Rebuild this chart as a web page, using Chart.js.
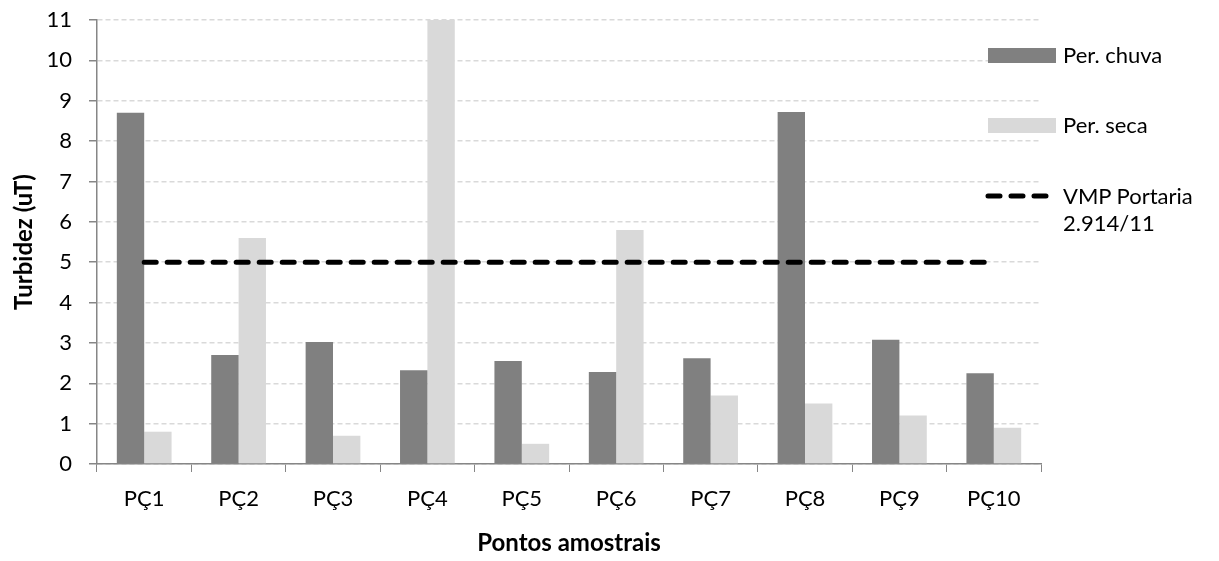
<!DOCTYPE html>
<html lang="pt">
<head>
    <meta charset="UTF-8">
    <title>Turbidez - Pontos amostrais</title>
    <script src="https://cdn.jsdelivr.net/npm/chart.js"></script>
    <style>
        body { margin: 0; background: #fff; font-family: Lato, sans-serif; }
        .wrap { position: relative; width: 1219px; height: 561px; }
        .legend { position: absolute; left: 985px; top: 0; color: #000; font-size: 22px; }
        .legend .item { position: absolute; left: 0; white-space: nowrap; }
        .legend .box { position: absolute; left: 3px; width: 68px; height: 15px; }
        .legend .txt { position: absolute; left: 78px; line-height: 27px; }
    </style>
</head>
<body>
<div class="wrap">
    <canvas id="turbChart" width="1219" height="561"></canvas>
    <div class="legend">
        <div class="item" style="top:55px">
            <div class="box" style="top:-7px; background:#808080"></div>
            <div class="txt" style="top:-14px">Per. chuva</div>
        </div>
        <div class="item" style="top:125px">
            <div class="box" style="top:-7px; background:#d9d9d9"></div>
            <div class="txt" style="top:-14px">Per. seca</div>
        </div>
        <div class="item" style="top:196px">
            <svg style="position:absolute; left:0; top:-5px" width="66" height="10">
                <line x1="3" y1="5" x2="63" y2="5" stroke="#000" stroke-width="5" stroke-linecap="round" stroke-dasharray="12 11"/>
            </svg>
            <div class="txt" style="top:-14px">VMP Portaria<br>2.914/11</div>
        </div>
    </div>
</div>
<script>
    // Data
    const pontos = ['PÇ1', 'PÇ2', 'PÇ3', 'PÇ4', 'PÇ5', 'PÇ6', 'PÇ7', 'PÇ8', 'PÇ9', 'PÇ10'];
    const perChuva = [8.7, 2.7, 3.02, 2.32, 2.55, 2.28, 2.62, 8.72, 3.08, 2.25];
    const perSeca = [0.8, 5.6, 0.7, 11, 0.5, 5.8, 1.7, 1.5, 1.2, 0.9];
    const vmp = [5, 5, 5, 5, 5, 5, 5, 5, 5, 5];
    const yTicks = [0, 1, 2, 3, 4, 5, 6, 7, 8, 9, 10, 11];

    const axisColor = '#868686';
    const gridColor = '#d9d9d9';

    const ctx = document.getElementById('turbChart').getContext('2d');
    new Chart(ctx, {
        type: 'bar',
        data: {
            labels: pontos,
            datasets: [
                {
                    type: 'line',
                    label: 'VMP Portaria 2.914/11',
                    data: vmp,
                    borderColor: '#000',
                    borderWidth: 5,
                    borderDash: [12, 11],
                    borderCapStyle: 'round',
                    pointRadius: 0,
                    fill: false,
                    order: 0
                },
                {
                    label: 'Per. chuva',
                    data: perChuva,
                    backgroundColor: '#808080',
                    barPercentage: 1,
                    categoryPercentage: 0.58,
                    order: 1
                },
                {
                    label: 'Per. seca',
                    data: perSeca,
                    backgroundColor: '#d9d9d9',
                    barPercentage: 1,
                    categoryPercentage: 0.58,
                    order: 1
                }
            ]
        },
        options: {
            responsive: false,
            animation: false,
            layout: { padding: { left: 0, right: 178, top: 20, bottom: 0 } },
            plugins: {
                legend: { display: false },
                tooltip: { enabled: false }
            },
            scales: {
                x: {
                    grid: {
                        offset: true,
                        drawOnChartArea: false,
                        tickLength: 8,
                        tickColor: axisColor,
                        color: axisColor
                    },
                    border: { color: axisColor, width: 1.5 },
                    ticks: {
                        color: '#000',
                        font: { family: 'Lato', size: 22 },
                        padding: 14,
                        maxRotation: 0
                    },
                    title: {
                        display: true,
                        text: 'Pontos amostrais',
                        color: '#000',
                        font: { family: 'Lato', size: 24, weight: 'bold' },
                        padding: { top: 0, bottom: 3 }
                    },
                    afterFit: function (scale) { scale.height = 97; }
                },
                y: {
                    min: 0,
                    max: 11,
                    afterBuildTicks: function (scale) {
                        scale.ticks = yTicks.map(v => ({ value: v }));
                    },
                    grid: {
                        color: gridColor,
                        lineWidth: 1.5,
                        tickLength: 8,
                        tickColor: axisColor,
                        tickBorderDash: []
                    },
                    border: { color: axisColor, width: 1.5, dash: [5, 3] },
                    ticks: {
                        color: '#000',
                        font: { family: 'Lato', size: 22 },
                        padding: 17
                    },
                    title: {
                        display: true,
                        text: 'Turbidez (uT)',
                        color: '#000',
                        font: { family: 'Lato', size: 24, weight: 'bold' },
                        padding: { top: 10, bottom: 0 }
                    },
                    afterFit: function (scale) {
                        scale.width = 97;
                        // tick padding would otherwise push the plot top down
                        scale.paddingTop = 14;
                        scale.paddingBottom = 14;
                    }
                }
            }
        }
    });
</script>
</body>
</html>
